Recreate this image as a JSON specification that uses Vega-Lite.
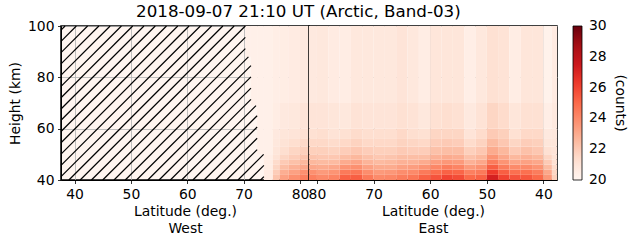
{
  "$schema": "https://vega.github.io/schema/vega-lite/v6.json",
  "padding": {"left": 7, "top": 3, "right": 5, "bottom": 5},
  "background": "white",
  "title": {"text": "2018-09-07 21:10 UT (Arctic, Band-03)", "fontSize": 16.7, "font": "DejaVu Sans", "fontWeight": "normal", "anchor": "middle", "dx": -19, "offset": -2, "color": "black"},
  "config": {
    "font": "DejaVu Sans",
    "view": {"stroke": "black", "strokeWidth": 1.5},
    "axis": {"labelFont": "DejaVu Sans", "labelFontSize": 13.9, "labelColor": "black", "titleFont": "DejaVu Sans", "titleFontSize": 13.9, "titleFontWeight": "normal", "titleColor": "black", "tickColor": "black", "tickSize": 3.5, "tickWidth": 0.8, "labelPadding": 3.5, "domain": true, "domainColor": "black", "domainWidth": 1, "grid": true, "gridColor": "#b0b0b0", "gridWidth": 0.8, "gridOpacity": 1, "zindex": 1, "labelFlush": false, "labelOverlap": false, "titleLineHeight": 16.7}
  },
  "datasets": {
    "hatch": [
      {"lat0": 73.0, "h0": 40, "lat1": 73.6, "h1": 41.32},
      {"lat0": 71.0, "h0": 40, "lat1": 73.6, "h1": 45.71},
      {"lat0": 69.0, "h0": 40, "lat1": 73.55, "h1": 50},
      {"lat0": 67.0, "h0": 40, "lat1": 72.4, "h1": 51.86},
      {"lat0": 65.0, "h0": 40, "lat1": 72.4, "h1": 56.25},
      {"lat0": 63.0, "h0": 40, "lat1": 72.4, "h1": 60.65},
      {"lat0": 61.0, "h0": 40, "lat1": 72.4, "h1": 65.04},
      {"lat0": 59.0, "h0": 40, "lat1": 72.2, "h1": 69},
      {"lat0": 57.0, "h0": 40, "lat1": 71.3, "h1": 71.41},
      {"lat0": 55.0, "h0": 40, "lat1": 71.3, "h1": 75.8},
      {"lat0": 53.0, "h0": 40, "lat1": 71.3, "h1": 80.19},
      {"lat0": 51.0, "h0": 40, "lat1": 71.3, "h1": 84.58},
      {"lat0": 49.0, "h0": 40, "lat1": 70.85, "h1": 88},
      {"lat0": 47.0, "h0": 40, "lat1": 70.3, "h1": 91.17},
      {"lat0": 45.0, "h0": 40, "lat1": 70.3, "h1": 95.56},
      {"lat0": 43.0, "h0": 40, "lat1": 70.3, "h1": 100},
      {"lat0": 41.0, "h0": 40, "lat1": 68.32, "h1": 100},
      {"lat0": 39.0, "h0": 40, "lat1": 66.32, "h1": 100},
      {"lat0": 37.6, "h0": 41.32, "lat1": 64.32, "h1": 100},
      {"lat0": 37.6, "h0": 45.71, "lat1": 62.32, "h1": 100},
      {"lat0": 37.6, "h0": 50.1, "lat1": 60.32, "h1": 100},
      {"lat0": 37.6, "h0": 54.5, "lat1": 58.32, "h1": 100},
      {"lat0": 37.6, "h0": 58.89, "lat1": 56.32, "h1": 100},
      {"lat0": 37.6, "h0": 63.28, "lat1": 54.32, "h1": 100},
      {"lat0": 37.6, "h0": 67.67, "lat1": 52.32, "h1": 100},
      {"lat0": 37.6, "h0": 72.06, "lat1": 50.32, "h1": 100},
      {"lat0": 37.6, "h0": 76.46, "lat1": 48.32, "h1": 100},
      {"lat0": 37.6, "h0": 80.85, "lat1": 46.32, "h1": 100},
      {"lat0": 37.6, "h0": 85.24, "lat1": 44.32, "h1": 100},
      {"lat0": 37.6, "h0": 89.63, "lat1": 42.32, "h1": 100},
      {"lat0": 37.6, "h0": 94.03, "lat1": 40.32, "h1": 100},
      {"lat0": 37.6, "h0": 98.42, "lat1": 38.32, "h1": 100}
    ],
    "west": [
      {"lat0":70.3,"lat1":71.3,"h0":88,"h1":100,"c":20.3},
      {"lat0":71.3,"lat1":72.4,"h0":69,"h1":100,"c":20.3},
      {"lat0":72.4,"lat1":73.6,"h0":50,"h1":100,"c":20.3},
      {"lat0":73.6,"lat1":75.2,"h0":40,"h1":42,"c":20.6},
      {"lat0":73.6,"lat1":75.2,"h0":42,"h1":44,"c":20.6},
      {"lat0":73.6,"lat1":75.2,"h0":44,"h1":46,"c":20.5},
      {"lat0":73.6,"lat1":75.2,"h0":46,"h1":48,"c":20.5},
      {"lat0":73.6,"lat1":75.2,"h0":48,"h1":50,"c":20.4},
      {"lat0":73.6,"lat1":75.2,"h0":50,"h1":100,"c":20.3},
      {"lat0":75.2,"lat1":76.4,"h0":40,"h1":42,"c":22.2},
      {"lat0":75.2,"lat1":76.4,"h0":42,"h1":44,"c":21.9},
      {"lat0":75.2,"lat1":76.4,"h0":44,"h1":46,"c":21.6},
      {"lat0":75.2,"lat1":76.4,"h0":46,"h1":48,"c":21.4},
      {"lat0":75.2,"lat1":76.4,"h0":48,"h1":50,"c":21.1},
      {"lat0":75.2,"lat1":76.4,"h0":50,"h1":53,"c":20.9},
      {"lat0":75.2,"lat1":76.4,"h0":53,"h1":56,"c":20.8},
      {"lat0":75.2,"lat1":76.4,"h0":56,"h1":60,"c":20.7},
      {"lat0":75.2,"lat1":76.4,"h0":60,"h1":70,"c":20.5},
      {"lat0":75.2,"lat1":76.4,"h0":70,"h1":100,"c":20.4},
      {"lat0":76.4,"lat1":78,"h0":40,"h1":42,"c":23.3},
      {"lat0":76.4,"lat1":78,"h0":42,"h1":44,"c":22.9},
      {"lat0":76.4,"lat1":78,"h0":44,"h1":46,"c":22.4},
      {"lat0":76.4,"lat1":78,"h0":46,"h1":48,"c":22.0},
      {"lat0":76.4,"lat1":78,"h0":48,"h1":50,"c":21.6},
      {"lat0":76.4,"lat1":78,"h0":50,"h1":53,"c":21.3},
      {"lat0":76.4,"lat1":78,"h0":53,"h1":56,"c":21.1},
      {"lat0":76.4,"lat1":78,"h0":56,"h1":60,"c":20.9},
      {"lat0":76.4,"lat1":78,"h0":60,"h1":70,"c":20.7},
      {"lat0":76.4,"lat1":78,"h0":70,"h1":100,"c":20.5},
      {"lat0":78,"lat1":80,"h0":40,"h1":42,"c":23.8},
      {"lat0":78,"lat1":80,"h0":42,"h1":44,"c":23.3},
      {"lat0":78,"lat1":80,"h0":44,"h1":46,"c":22.8},
      {"lat0":78,"lat1":80,"h0":46,"h1":48,"c":22.3},
      {"lat0":78,"lat1":80,"h0":48,"h1":50,"c":21.9},
      {"lat0":78,"lat1":80,"h0":50,"h1":53,"c":21.6},
      {"lat0":78,"lat1":80,"h0":53,"h1":56,"c":21.3},
      {"lat0":78,"lat1":80,"h0":56,"h1":60,"c":21.0},
      {"lat0":78,"lat1":80,"h0":60,"h1":70,"c":20.8},
      {"lat0":78,"lat1":80,"h0":70,"h1":100,"c":20.6},
      {"lat0":80,"lat1":81.6,"h0":40,"h1":42,"c":24.3},
      {"lat0":80,"lat1":81.6,"h0":42,"h1":44,"c":23.8},
      {"lat0":80,"lat1":81.6,"h0":44,"h1":46,"c":23.1},
      {"lat0":80,"lat1":81.6,"h0":46,"h1":48,"c":22.6},
      {"lat0":80,"lat1":81.6,"h0":48,"h1":50,"c":22.2},
      {"lat0":80,"lat1":81.6,"h0":50,"h1":53,"c":21.8},
      {"lat0":80,"lat1":81.6,"h0":53,"h1":56,"c":21.5},
      {"lat0":80,"lat1":81.6,"h0":56,"h1":60,"c":21.2},
      {"lat0":80,"lat1":81.6,"h0":60,"h1":70,"c":21.0},
      {"lat0":80,"lat1":81.6,"h0":70,"h1":100,"c":20.7}
    ],
    "east": [
      {"lat0":81.4,"lat1":80,"h0":40,"h1":42,"c":24.3},{"lat0":81.4,"lat1":80,"h0":42,"h1":44,"c":23.8},{"lat0":81.4,"lat1":80,"h0":44,"h1":46,"c":23.1},{"lat0":81.4,"lat1":80,"h0":46,"h1":48,"c":22.6},{"lat0":81.4,"lat1":80,"h0":48,"h1":50,"c":22.2},{"lat0":81.4,"lat1":80,"h0":50,"h1":53,"c":21.8},{"lat0":81.4,"lat1":80,"h0":53,"h1":56,"c":21.5},{"lat0":81.4,"lat1":80,"h0":56,"h1":60,"c":21.2},{"lat0":81.4,"lat1":80,"h0":60,"h1":70,"c":21.0},{"lat0":81.4,"lat1":80,"h0":70,"h1":100,"c":20.7},
      {"lat0":80,"lat1":78,"h0":40,"h1":42,"c":24.0},{"lat0":80,"lat1":78,"h0":42,"h1":44,"c":23.5},{"lat0":80,"lat1":78,"h0":44,"h1":46,"c":23.0},{"lat0":80,"lat1":78,"h0":46,"h1":48,"c":22.5},{"lat0":80,"lat1":78,"h0":48,"h1":50,"c":22.1},{"lat0":80,"lat1":78,"h0":50,"h1":53,"c":21.8},{"lat0":80,"lat1":78,"h0":53,"h1":56,"c":21.5},{"lat0":80,"lat1":78,"h0":56,"h1":60,"c":21.3},{"lat0":80,"lat1":78,"h0":60,"h1":70,"c":21.0},{"lat0":80,"lat1":78,"h0":70,"h1":100,"c":20.8},
      {"lat0":78,"lat1":76,"h0":40,"h1":42,"c":24.2},{"lat0":78,"lat1":76,"h0":42,"h1":44,"c":23.7},{"lat0":78,"lat1":76,"h0":44,"h1":46,"c":23.1},{"lat0":78,"lat1":76,"h0":46,"h1":48,"c":22.5},{"lat0":78,"lat1":76,"h0":48,"h1":50,"c":22.1},{"lat0":78,"lat1":76,"h0":50,"h1":53,"c":21.7},{"lat0":78,"lat1":76,"h0":53,"h1":56,"c":21.4},{"lat0":78,"lat1":76,"h0":56,"h1":60,"c":21.1},{"lat0":78,"lat1":76,"h0":60,"h1":70,"c":20.9},{"lat0":78,"lat1":76,"h0":70,"h1":100,"c":20.6},
      {"lat0":76,"lat1":74,"h0":40,"h1":42,"c":25.2},{"lat0":76,"lat1":74,"h0":42,"h1":44,"c":24.5},{"lat0":76,"lat1":74,"h0":44,"h1":46,"c":23.7},{"lat0":76,"lat1":74,"h0":46,"h1":48,"c":23.0},{"lat0":76,"lat1":74,"h0":48,"h1":50,"c":22.4},{"lat0":76,"lat1":74,"h0":50,"h1":53,"c":21.9},{"lat0":76,"lat1":74,"h0":53,"h1":56,"c":21.5},{"lat0":76,"lat1":74,"h0":56,"h1":60,"c":21.2},{"lat0":76,"lat1":74,"h0":60,"h1":70,"c":20.8},{"lat0":76,"lat1":74,"h0":70,"h1":100,"c":20.5},
      {"lat0":74,"lat1":72,"h0":40,"h1":42,"c":25.3},{"lat0":74,"lat1":72,"h0":42,"h1":44,"c":24.6},{"lat0":74,"lat1":72,"h0":44,"h1":46,"c":23.8},{"lat0":74,"lat1":72,"h0":46,"h1":48,"c":23.2},{"lat0":74,"lat1":72,"h0":48,"h1":50,"c":22.6},{"lat0":74,"lat1":72,"h0":50,"h1":53,"c":22.1},{"lat0":74,"lat1":72,"h0":53,"h1":56,"c":21.7},{"lat0":74,"lat1":72,"h0":56,"h1":60,"c":21.4},{"lat0":74,"lat1":72,"h0":60,"h1":70,"c":21.1},{"lat0":74,"lat1":72,"h0":70,"h1":100,"c":20.8},
      {"lat0":72,"lat1":70,"h0":40,"h1":42,"c":24.5},{"lat0":72,"lat1":70,"h0":42,"h1":44,"c":23.9},{"lat0":72,"lat1":70,"h0":44,"h1":46,"c":23.3},{"lat0":72,"lat1":70,"h0":46,"h1":48,"c":22.7},{"lat0":72,"lat1":70,"h0":48,"h1":50,"c":22.3},{"lat0":72,"lat1":70,"h0":50,"h1":53,"c":21.9},{"lat0":72,"lat1":70,"h0":53,"h1":56,"c":21.5},{"lat0":72,"lat1":70,"h0":56,"h1":60,"c":21.3},{"lat0":72,"lat1":70,"h0":60,"h1":70,"c":21.0},{"lat0":72,"lat1":70,"h0":70,"h1":100,"c":20.8},
      {"lat0":70,"lat1":68,"h0":40,"h1":42,"c":24.0},{"lat0":70,"lat1":68,"h0":42,"h1":44,"c":23.5},{"lat0":70,"lat1":68,"h0":44,"h1":46,"c":23.0},{"lat0":70,"lat1":68,"h0":46,"h1":48,"c":22.5},{"lat0":70,"lat1":68,"h0":48,"h1":50,"c":22.1},{"lat0":70,"lat1":68,"h0":50,"h1":53,"c":21.8},{"lat0":70,"lat1":68,"h0":53,"h1":56,"c":21.5},{"lat0":70,"lat1":68,"h0":56,"h1":60,"c":21.3},{"lat0":70,"lat1":68,"h0":60,"h1":70,"c":21.0},{"lat0":70,"lat1":68,"h0":70,"h1":100,"c":20.8},
      {"lat0":68,"lat1":66,"h0":40,"h1":42,"c":24.1},{"lat0":68,"lat1":66,"h0":42,"h1":44,"c":23.6},{"lat0":68,"lat1":66,"h0":44,"h1":46,"c":23.0},{"lat0":68,"lat1":66,"h0":46,"h1":48,"c":22.6},{"lat0":68,"lat1":66,"h0":48,"h1":50,"c":22.2},{"lat0":68,"lat1":66,"h0":50,"h1":53,"c":21.8},{"lat0":68,"lat1":66,"h0":53,"h1":56,"c":21.5},{"lat0":68,"lat1":66,"h0":56,"h1":60,"c":21.3},{"lat0":68,"lat1":66,"h0":60,"h1":70,"c":21.0},{"lat0":68,"lat1":66,"h0":70,"h1":100,"c":20.8},
      {"lat0":66,"lat1":64,"h0":40,"h1":42,"c":24.4},{"lat0":66,"lat1":64,"h0":42,"h1":44,"c":23.9},{"lat0":66,"lat1":64,"h0":44,"h1":46,"c":23.3},{"lat0":66,"lat1":64,"h0":46,"h1":48,"c":22.8},{"lat0":66,"lat1":64,"h0":48,"h1":50,"c":22.4},{"lat0":66,"lat1":64,"h0":50,"h1":53,"c":22.0},{"lat0":66,"lat1":64,"h0":53,"h1":56,"c":21.7},{"lat0":66,"lat1":64,"h0":56,"h1":60,"c":21.5},{"lat0":66,"lat1":64,"h0":60,"h1":70,"c":21.2},{"lat0":66,"lat1":64,"h0":70,"h1":100,"c":21.0},
      {"lat0":64,"lat1":62,"h0":40,"h1":42,"c":24.6},{"lat0":64,"lat1":62,"h0":42,"h1":44,"c":24.0},{"lat0":64,"lat1":62,"h0":44,"h1":46,"c":23.4},{"lat0":64,"lat1":62,"h0":46,"h1":48,"c":22.8},{"lat0":64,"lat1":62,"h0":48,"h1":50,"c":22.4},{"lat0":64,"lat1":62,"h0":50,"h1":53,"c":21.9},{"lat0":64,"lat1":62,"h0":53,"h1":56,"c":21.6},{"lat0":64,"lat1":62,"h0":56,"h1":60,"c":21.3},{"lat0":64,"lat1":62,"h0":60,"h1":70,"c":21.1},{"lat0":64,"lat1":62,"h0":70,"h1":100,"c":20.8},
      {"lat0":62,"lat1":60,"h0":40,"h1":42,"c":25.2},{"lat0":62,"lat1":60,"h0":42,"h1":44,"c":24.5},{"lat0":62,"lat1":60,"h0":44,"h1":46,"c":23.7},{"lat0":62,"lat1":60,"h0":46,"h1":48,"c":23.0},{"lat0":62,"lat1":60,"h0":48,"h1":50,"c":22.4},{"lat0":62,"lat1":60,"h0":50,"h1":53,"c":21.9},{"lat0":62,"lat1":60,"h0":53,"h1":56,"c":21.5},{"lat0":62,"lat1":60,"h0":56,"h1":60,"c":21.2},{"lat0":62,"lat1":60,"h0":60,"h1":70,"c":20.8},{"lat0":62,"lat1":60,"h0":70,"h1":100,"c":20.5},
      {"lat0":60,"lat1":58,"h0":40,"h1":42,"c":25.6},{"lat0":60,"lat1":58,"h0":42,"h1":44,"c":24.9},{"lat0":60,"lat1":58,"h0":44,"h1":46,"c":24.1},{"lat0":60,"lat1":58,"h0":46,"h1":48,"c":23.4},{"lat0":60,"lat1":58,"h0":48,"h1":50,"c":22.8},{"lat0":60,"lat1":58,"h0":50,"h1":53,"c":22.3},{"lat0":60,"lat1":58,"h0":53,"h1":56,"c":21.9},{"lat0":60,"lat1":58,"h0":56,"h1":60,"c":21.6},{"lat0":60,"lat1":58,"h0":60,"h1":70,"c":21.2},{"lat0":60,"lat1":58,"h0":70,"h1":100,"c":20.9},
      {"lat0":58,"lat1":56,"h0":40,"h1":42,"c":26.0},{"lat0":58,"lat1":56,"h0":42,"h1":44,"c":25.2},{"lat0":58,"lat1":56,"h0":44,"h1":46,"c":24.4},{"lat0":58,"lat1":56,"h0":46,"h1":48,"c":23.6},{"lat0":58,"lat1":56,"h0":48,"h1":50,"c":23.0},{"lat0":58,"lat1":56,"h0":50,"h1":53,"c":22.4},{"lat0":58,"lat1":56,"h0":53,"h1":56,"c":22.0},{"lat0":58,"lat1":56,"h0":56,"h1":60,"c":21.6},{"lat0":58,"lat1":56,"h0":60,"h1":70,"c":21.3},{"lat0":58,"lat1":56,"h0":70,"h1":100,"c":20.9},
      {"lat0":56,"lat1":54,"h0":40,"h1":42,"c":25.8},{"lat0":56,"lat1":54,"h0":42,"h1":44,"c":25.1},{"lat0":56,"lat1":54,"h0":44,"h1":46,"c":24.2},{"lat0":56,"lat1":54,"h0":46,"h1":48,"c":23.5},{"lat0":56,"lat1":54,"h0":48,"h1":50,"c":22.9},{"lat0":56,"lat1":54,"h0":50,"h1":53,"c":22.4},{"lat0":56,"lat1":54,"h0":53,"h1":56,"c":21.9},{"lat0":56,"lat1":54,"h0":56,"h1":60,"c":21.6},{"lat0":56,"lat1":54,"h0":60,"h1":70,"c":21.2},{"lat0":56,"lat1":54,"h0":70,"h1":100,"c":20.9},
      {"lat0":54,"lat1":52,"h0":40,"h1":42,"c":25.0},{"lat0":54,"lat1":52,"h0":42,"h1":44,"c":24.3},{"lat0":54,"lat1":52,"h0":44,"h1":46,"c":23.5},{"lat0":54,"lat1":52,"h0":46,"h1":48,"c":22.8},{"lat0":54,"lat1":52,"h0":48,"h1":50,"c":22.3},{"lat0":54,"lat1":52,"h0":50,"h1":53,"c":21.8},{"lat0":54,"lat1":52,"h0":53,"h1":56,"c":21.4},{"lat0":54,"lat1":52,"h0":56,"h1":60,"c":21.0},{"lat0":54,"lat1":52,"h0":60,"h1":70,"c":20.7},{"lat0":54,"lat1":52,"h0":70,"h1":100,"c":20.4},
      {"lat0":52,"lat1":50,"h0":40,"h1":42,"c":25.2},{"lat0":52,"lat1":50,"h0":42,"h1":44,"c":24.5},{"lat0":52,"lat1":50,"h0":44,"h1":46,"c":23.8},{"lat0":52,"lat1":50,"h0":46,"h1":48,"c":23.1},{"lat0":52,"lat1":50,"h0":48,"h1":50,"c":22.6},{"lat0":52,"lat1":50,"h0":50,"h1":53,"c":22.1},{"lat0":52,"lat1":50,"h0":53,"h1":56,"c":21.7},{"lat0":52,"lat1":50,"h0":56,"h1":60,"c":21.4},{"lat0":52,"lat1":50,"h0":60,"h1":70,"c":21.1},{"lat0":52,"lat1":50,"h0":70,"h1":100,"c":20.8},
      {"lat0":50,"lat1":48,"h0":40,"h1":42,"c":27.2},{"lat0":50,"lat1":48,"h0":42,"h1":44,"c":26.3},{"lat0":50,"lat1":48,"h0":44,"h1":46,"c":25.3},{"lat0":50,"lat1":48,"h0":46,"h1":48,"c":24.4},{"lat0":50,"lat1":48,"h0":48,"h1":50,"c":23.7},{"lat0":50,"lat1":48,"h0":50,"h1":53,"c":23.0},{"lat0":50,"lat1":48,"h0":53,"h1":56,"c":22.5},{"lat0":50,"lat1":48,"h0":56,"h1":60,"c":22.0},{"lat0":50,"lat1":48,"h0":60,"h1":70,"c":21.6},{"lat0":50,"lat1":48,"h0":70,"h1":100,"c":21.2},
      {"lat0":48,"lat1":46,"h0":40,"h1":42,"c":26.0},{"lat0":48,"lat1":46,"h0":42,"h1":44,"c":25.3},{"lat0":48,"lat1":46,"h0":44,"h1":46,"c":24.4},{"lat0":48,"lat1":46,"h0":46,"h1":48,"c":23.7},{"lat0":48,"lat1":46,"h0":48,"h1":50,"c":23.1},{"lat0":48,"lat1":46,"h0":50,"h1":53,"c":22.6},{"lat0":48,"lat1":46,"h0":53,"h1":56,"c":22.1},{"lat0":48,"lat1":46,"h0":56,"h1":60,"c":21.8},{"lat0":48,"lat1":46,"h0":60,"h1":70,"c":21.4},{"lat0":48,"lat1":46,"h0":70,"h1":100,"c":21.1},
      {"lat0":46,"lat1":44,"h0":40,"h1":42,"c":25.6},{"lat0":46,"lat1":44,"h0":42,"h1":44,"c":24.8},{"lat0":46,"lat1":44,"h0":44,"h1":46,"c":24.0},{"lat0":46,"lat1":44,"h0":46,"h1":48,"c":23.2},{"lat0":46,"lat1":44,"h0":48,"h1":50,"c":22.6},{"lat0":46,"lat1":44,"h0":50,"h1":53,"c":22.0},{"lat0":46,"lat1":44,"h0":53,"h1":56,"c":21.6},{"lat0":46,"lat1":44,"h0":56,"h1":60,"c":21.2},{"lat0":46,"lat1":44,"h0":60,"h1":70,"c":20.9},{"lat0":46,"lat1":44,"h0":70,"h1":100,"c":20.5},
      {"lat0":44,"lat1":42,"h0":40,"h1":42,"c":25.5},{"lat0":44,"lat1":42,"h0":42,"h1":44,"c":24.8},{"lat0":44,"lat1":42,"h0":44,"h1":46,"c":24.0},{"lat0":44,"lat1":42,"h0":46,"h1":48,"c":23.3},{"lat0":44,"lat1":42,"h0":48,"h1":50,"c":22.8},{"lat0":44,"lat1":42,"h0":50,"h1":53,"c":22.3},{"lat0":44,"lat1":42,"h0":53,"h1":56,"c":21.9},{"lat0":44,"lat1":42,"h0":56,"h1":60,"c":21.5},{"lat0":44,"lat1":42,"h0":60,"h1":70,"c":21.2},{"lat0":44,"lat1":42,"h0":70,"h1":100,"c":20.9},
      {"lat0":42,"lat1":40,"h0":40,"h1":42,"c":25.0},{"lat0":42,"lat1":40,"h0":42,"h1":44,"c":24.4},{"lat0":42,"lat1":40,"h0":44,"h1":46,"c":23.7},{"lat0":42,"lat1":40,"h0":46,"h1":48,"c":23.1},{"lat0":42,"lat1":40,"h0":48,"h1":50,"c":22.6},{"lat0":42,"lat1":40,"h0":50,"h1":53,"c":22.1},{"lat0":42,"lat1":40,"h0":53,"h1":56,"c":21.8},{"lat0":42,"lat1":40,"h0":56,"h1":60,"c":21.5},{"lat0":42,"lat1":40,"h0":60,"h1":70,"c":21.2},{"lat0":42,"lat1":40,"h0":70,"h1":100,"c":20.9},
      {"lat0":40,"lat1":38.5,"h0":40,"h1":42,"c":23.6},{"lat0":40,"lat1":38.5,"h0":42,"h1":44,"c":23.1},{"lat0":40,"lat1":38.5,"h0":44,"h1":46,"c":22.5},{"lat0":40,"lat1":38.5,"h0":46,"h1":48,"c":22.0},{"lat0":40,"lat1":38.5,"h0":48,"h1":50,"c":21.6},{"lat0":40,"lat1":38.5,"h0":50,"h1":53,"c":21.2},{"lat0":40,"lat1":38.5,"h0":53,"h1":56,"c":20.9},{"lat0":40,"lat1":38.5,"h0":56,"h1":60,"c":20.7},{"lat0":40,"lat1":38.5,"h0":60,"h1":70,"c":20.4},{"lat0":40,"lat1":38.5,"h0":70,"h1":100,"c":20.2},
      {"lat0":38.5,"lat1":37.6,"h0":40,"h1":42,"c":21.8},{"lat0":38.5,"lat1":37.6,"h0":42,"h1":44,"c":21.6},{"lat0":38.5,"lat1":37.6,"h0":44,"h1":46,"c":21.4},{"lat0":38.5,"lat1":37.6,"h0":46,"h1":48,"c":21.2},{"lat0":38.5,"lat1":37.6,"h0":48,"h1":50,"c":21.1},{"lat0":38.5,"lat1":37.6,"h0":50,"h1":53,"c":21.0},{"lat0":38.5,"lat1":37.6,"h0":53,"h1":56,"c":20.9},{"lat0":38.5,"lat1":37.6,"h0":56,"h1":60,"c":20.8},{"lat0":38.5,"lat1":37.6,"h0":60,"h1":70,"c":20.7},{"lat0":38.5,"lat1":37.6,"h0":70,"h1":100,"c":20.6}
    ]
  },
  "spacing": 0,
  "bounds": "flush",
  "hconcat": [
    {
      "width": 248,
      "height": 154,
      "view": {"fill": "#fff5f0", "stroke": "black", "strokeWidth": 1.5},
      "layer": [
        {
          "data": {"name": "west"},
          "mark": {"type": "rect"},
          "encoding": {
            "x": {"field": "lat0", "type": "quantitative", "scale": {"domain": [37.6, 81.6], "nice": false, "zero": false}, "axis": {"values": [40, 50, 60, 70, 80], "title": ["Latitude (deg.)", "West"], "titlePadding": 4}},
            "x2": {"field": "lat1"},
            "y": {"field": "h0", "type": "quantitative", "scale": {"domain": [40, 100], "nice": false, "zero": false}, "axis": {"values": [40, 60, 80, 100], "title": "Height (km)", "titlePadding": 5}},
            "y2": {"field": "h1"},
            "color": {"field": "c", "type": "quantitative", "scale": {"domain": [20, 21.25, 22.5, 23.75, 25, 26.25, 27.5, 28.75, 30], "range": ["#fff5f0", "#fee0d2", "#fcbba1", "#fc9272", "#fb6a4a", "#ef3b2c", "#cb181d", "#a50f15", "#67000d"], "interpolate": "rgb"}, "legend": {"type": "gradient", "title": "(counts)", "orient": "right", "direction": "vertical", "gradientLength": 154, "gradientThickness": 9, "values": [20, 22, 24, 26, 28, 30], "offset": 15, "titleOrient": "right", "titleAngle": 270, "titleAnchor": "middle", "titleAlign": "center", "titleBaseline": "top", "titlePadding": 20, "labelFontSize": 13.9, "labelColor": "black", "labelFont": "DejaVu Sans", "titleFont": "DejaVu Sans", "titleFontSize": 13.9, "titleFontWeight": "normal", "titleColor": "black", "gradientStrokeColor": "black", "gradientStrokeWidth": 0.8, "labelOffset": 7, "encode": {"labels": {"update": {"baseline": {"value": "middle"}}}}}}
          }
        },
        {
          "data": {"name": "hatch"},
          "mark": {"type": "rule", "color": "black", "strokeWidth": 1.2},
          "encoding": {
            "x": {"field": "lat0", "type": "quantitative"},
            "x2": {"field": "lat1"},
            "y": {"field": "h0", "type": "quantitative"},
            "y2": {"field": "h1"}
          }
        }
      ]
    },
    {
      "width": 248,
      "height": 154,
      "view": {"stroke": "black", "strokeWidth": 1.5},
      "data": {"name": "east"},
      "mark": {"type": "rect"},
      "encoding": {
        "x": {"field": "lat0", "type": "quantitative", "scale": {"domain": [37.6, 81.4], "nice": false, "zero": false, "reverse": true}, "axis": {"values": [80, 70, 60, 50, 40], "title": ["Latitude (deg.)", "East"], "titlePadding": 4}},
        "x2": {"field": "lat1"},
        "y": {"field": "h0", "type": "quantitative", "scale": {"domain": [40, 100], "nice": false, "zero": false}, "axis": {"values": [40, 60, 80, 100], "title": null, "labels": false, "ticks": false}},
        "y2": {"field": "h1"},
        "color": {"field": "c", "type": "quantitative", "scale": {"domain": [20, 21.25, 22.5, 23.75, 25, 26.25, 27.5, 28.75, 30], "range": ["#fff5f0", "#fee0d2", "#fcbba1", "#fc9272", "#fb6a4a", "#ef3b2c", "#cb181d", "#a50f15", "#67000d"], "interpolate": "rgb"}, "legend": {"type": "gradient", "title": "(counts)", "orient": "right", "direction": "vertical", "gradientLength": 154, "gradientThickness": 9, "values": [20, 22, 24, 26, 28, 30], "offset": 15, "titleOrient": "right", "titleAngle": 270, "titleAnchor": "middle", "titleAlign": "center", "titleBaseline": "top", "titlePadding": 20, "labelFontSize": 13.9, "labelColor": "black", "labelFont": "DejaVu Sans", "titleFont": "DejaVu Sans", "titleFontSize": 13.9, "titleFontWeight": "normal", "titleColor": "black", "gradientStrokeColor": "black", "gradientStrokeWidth": 0.8, "labelOffset": 7, "encode": {"labels": {"update": {"baseline": {"value": "middle"}}}}}}
      }
    }
  ],
  "resolve": {"scale": {"x": "independent", "y": "shared", "color": "shared"}, "axis": {"x": "independent", "y": "independent"}}
}
